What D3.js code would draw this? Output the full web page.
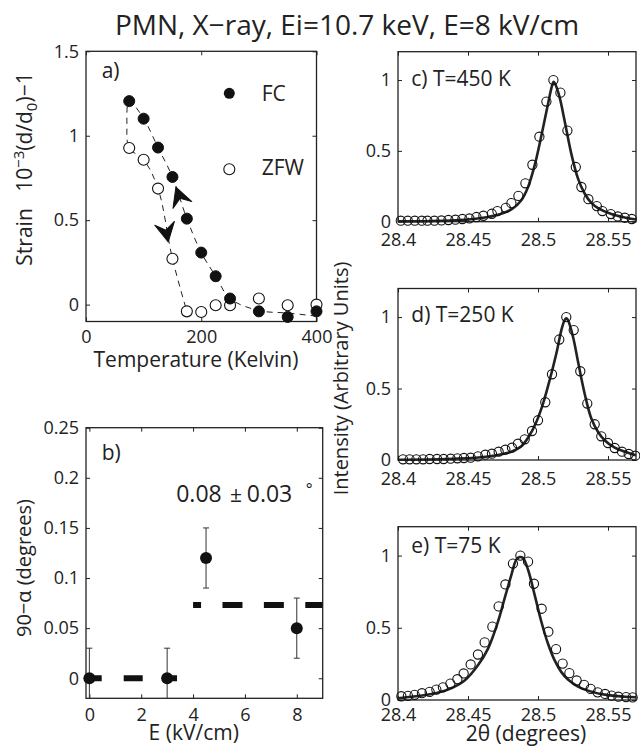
<!DOCTYPE html>
<html><head><meta charset="utf-8">
<script src="https://cdn.jsdelivr.net/npm/d3@7"></script>
<style>
body{margin:0;background:#fff}
svg text{font-family:"Open Sans",sans-serif;fill:#222}
</style></head><body>
<svg id="chart" width="640" height="747"></svg>
<script>
// ---------- DATA ----------
// panel a
const tempK = [75,100,125,150,175,200,225,250,300,350,400];
const strainFC  = [1.205,1.101,0.930,0.756,0.509,0.308,0.168,0.036,-0.040,-0.073,-0.040];
const strainZFW = [0.927,0.858,0.687,0.272,-0.040,-0.044,-0.004,-0.004,0.036,-0.004,0.000];
const guideT      = [400,350,300,250,225,200,175,150,125,100,75,71,75,100,125,150,175];
const guideStrain = [-0.068,-0.05,-0.035,0.036,0.168,0.308,0.509,0.756,0.930,1.101,1.205,1.06,0.927,0.858,0.687,0.272,-0.040];
const arrowT = [156,142.7];
const arrowStrain = [0.696,0.371];
const arrowAngle = [-110,79];
const aXTicks = [0,200,400], aXLabels = ["0","200","400"];
const aYTicks = [0,0.5,1,1.5], aYLabels = ["0","0.5","1","1.5"];
// panel b
const fieldE = [0,3,4.5,8];
const tilt = [0,0,0.12,0.05];
const tiltErr = [0.03,0.03,0.03,0.03];
const fitLow = {x:[-0.13,3.38], y:0};
const fitHigh = {x:[4.0,9.0], y:0.073};
const bXTicks = [0,2,4,6,8], bXLabels = ["0","2","4","6","8"];
const bYTicks = [0,0.05,0.1,0.15,0.2,0.25], bYLabels = ["0","0.05","0.1","0.15","0.2","0.25"];
// panels c, d, e
const cTheta = [28.402,28.407,28.412,28.417,28.421,28.426,28.431,28.436,28.441,28.446,28.451,28.456,28.461,28.467,28.471,28.477,28.481,28.486,28.491,28.496,28.501,28.506,28.511,28.516,28.521,28.527,28.531,28.536,28.542,28.546,28.552,28.557,28.562,28.567];
const cInt = [0.007,0.007,0.007,0.007,0.007,0.007,0.009,0.012,0.014,0.019,0.023,0.033,0.042,0.056,0.075,0.098,0.131,0.182,0.271,0.402,0.600,0.848,1.000,0.911,0.643,0.386,0.245,0.159,0.110,0.075,0.054,0.037,0.028,0.019];
const cFitTheta = [28.400,28.4238,28.4476,28.4595,28.4714,28.481,28.4881,28.4929,28.4976,28.5024,28.5071,28.510,28.5112,28.5124,28.5155,28.519,28.5238,28.5286,28.5333,28.5381,28.5429,28.5524,28.5619,28.5700];
const cFitInt = [0.002,0.005,0.014,0.026,0.049,0.086,0.152,0.245,0.397,0.607,0.829,0.958,0.988,0.970,0.876,0.713,0.479,0.304,0.199,0.133,0.096,0.054,0.030,0.016];

const dTheta = [28.4036,28.4083,28.4131,28.4179,28.4226,28.4279,28.4326,28.4376,28.4424,28.4471,28.4519,28.4571,28.4624,28.4671,28.4719,28.4767,28.4814,28.4857,28.4905,28.4957,28.5000,28.5052,28.5100,28.5152,28.5202,28.5255,28.5302,28.5352,28.5405,28.5452,28.5500,28.5548,28.5600,28.5648,28.5695];
const dInt = [0.005,0.005,0.005,0.005,0.007,0.007,0.007,0.009,0.012,0.014,0.016,0.026,0.037,0.044,0.058,0.072,0.086,0.114,0.145,0.203,0.278,0.404,0.600,0.843,1.000,0.909,0.621,0.395,0.250,0.166,0.119,0.084,0.058,0.042,0.030];
const dFitTheta = [28.400,28.4357,28.4595,28.4714,28.481,28.4881,28.494,28.4988,28.5036,28.5083,28.5131,28.5167,28.519,28.5202,28.5214,28.525,28.5286,28.5333,28.5381,28.5429,28.5476,28.5548,28.5643,28.5700];
const dFitInt = [0.002,0.007,0.019,0.035,0.058,0.096,0.173,0.266,0.395,0.558,0.745,0.909,0.979,0.991,0.979,0.862,0.687,0.465,0.290,0.196,0.138,0.086,0.051,0.033];

const eTheta = [28.4024,28.4071,28.4119,28.4171,28.4226,28.4274,28.4321,28.4374,28.4424,28.4469,28.4519,28.4571,28.4619,28.4674,28.4719,28.4767,28.4821,28.4874,28.4929,28.4971,28.5026,28.5074,28.5129,28.5176,28.5224,28.5276,28.5329,28.5376,28.5426,28.5479,28.5526,28.5574,28.5629,28.5676];
const eInt = [0.026,0.029,0.036,0.047,0.056,0.072,0.088,0.114,0.144,0.184,0.246,0.315,0.399,0.508,0.648,0.800,0.945,1.000,0.958,0.805,0.632,0.473,0.352,0.252,0.186,0.135,0.105,0.077,0.053,0.042,0.030,0.023,0.020,0.018];
const eFitTheta = [28.400,28.4238,28.4357,28.4476,28.4571,28.4643,28.4714,28.4762,28.481,28.4845,28.4869,28.4893,28.4929,28.4976,28.5024,28.5071,28.5119,28.5167,28.5214,28.5286,28.5381,28.5476,28.5619,28.5700];
const eFitInt = [0.012,0.042,0.072,0.135,0.240,0.356,0.542,0.705,0.867,0.972,0.990,0.984,0.902,0.728,0.542,0.391,0.274,0.193,0.142,0.093,0.058,0.037,0.023,0.019];

const pXTicks = [28.4,28.45,28.5,28.55], pXLabels = ["28.4","28.45","28.5","28.55"];
const pYTicks = [0,0.5,1], pYLabels = ["0","0.5","1"];

// ---------- DRAWING ----------
const svg = d3.select("#chart");
const INK = "#222";
const TICKFS = 18, LABFS = 21;

function frame(x, y, xt, xl, yt, yl, xOff){
  const [x0,x1] = x.range(), [yb,ytop] = y.range();
  const g = svg.append("g").attr("color",INK);
  const b = g.append("g").attr("transform",`translate(0,${yb})`)
    .call(d3.axisBottom(x).tickValues(xt).tickFormat((d,i)=>xl[i]).tickSizeInner(-4).tickSizeOuter(0));
  b.selectAll("text").attr("y",xOff).attr("dy",null);
  g.append("g").attr("transform",`translate(0,${ytop})`)
    .call(d3.axisTop(x).tickValues(xt).tickFormat("").tickSizeInner(-4).tickSizeOuter(0));
  g.append("g").attr("transform",`translate(${x0},0)`)
    .call(d3.axisLeft(y).tickValues(yt).tickFormat((d,i)=>yl[i]).tickSizeInner(-4).tickSizeOuter(0).tickPadding(7));
  g.append("g").attr("transform",`translate(${x1},0)`)
    .call(d3.axisRight(y).tickValues(yt).tickFormat("").tickSizeInner(-4).tickSizeOuter(0));
  g.selectAll(".domain").remove();
  g.selectAll("g").attr("font-family",null).attr("font-size",TICKFS);
  g.selectAll(".tick line").attr("stroke-width",1);
  g.append("rect").attr("x",x0).attr("y",ytop).attr("width",x1-x0).attr("height",yb-ytop)
    .attr("fill","none").attr("stroke",INK).attr("stroke-width",1.3);
}

function label(x, y, txt, opts={}){
  const t = svg.append("text").attr("x",x).attr("y",y).attr("font-size",opts.fs||LABFS)
    .attr("text-anchor",opts.anchor||"start").text(txt);
  if(opts.rot) t.attr("transform",`rotate(-90,${x},${y})`);
  return t;
}

// title
label(347,35,"PMN, X\u2212ray, Ei=10.7 keV, E=8 kV/cm",{fs:28,anchor:"middle"});

// ----- panel a -----
const ax = d3.scaleLinear().domain([0,400]).range([86,316.5]);
const ay = d3.scaleLinear().domain([-0.1,1.5]).range([321.5,51.3]);
frame(ax, ay, aXTicks, aXLabels, aYTicks, aYLabels, 21.2);
const guide = d3.line().x((d,i)=>ax(guideT[i])).y((d,i)=>ay(guideStrain[i])).curve(d3.curveCatmullRom.alpha(0.5));
svg.append("path").attr("d",guide(guideT)).attr("fill","none").attr("stroke",INK)
  .attr("stroke-width",1).attr("stroke-dasharray","6,5");
svg.append("g").selectAll("circle").data(tempK).join("circle")
  .attr("cx",d=>ax(d)).attr("cy",(d,i)=>ay(strainZFW[i])).attr("r",5.5)
  .attr("fill","#fff").attr("stroke","#111").attr("stroke-width",1.1);
svg.append("g").selectAll("circle").data(tempK).join("circle")
  .attr("cx",d=>ax(d)).attr("cy",(d,i)=>ay(strainFC[i])).attr("r",5.5)
  .attr("fill","#111").attr("stroke","#111").attr("stroke-width",1);
// arrow heads
svg.append("g").selectAll("path").data(arrowT).join("path")
  .attr("d","M0,0 L-19,-10 L-12,0 L-19,10 Z")
  .attr("transform",(d,i)=>`translate(${ax(d)},${ay(arrowStrain[i])}) rotate(${arrowAngle[i]})`)
  .attr("fill","#111").attr("stroke","#111").attr("stroke-width",1).attr("stroke-linejoin","round");
// legend
svg.append("circle").attr("cx",229.3).attr("cy",93.3).attr("r",5.5).attr("fill","#111");
svg.append("circle").attr("cx",229.3).attr("cy",169.3).attr("r",5.5).attr("fill","#fff").attr("stroke","#111").attr("stroke-width",1.1);
label(261.7,100.5,"FC");
label(261.7,174.5,"ZFW");
label(101.7,78.3,"a)");
label(196,366.7,"Temperature (Kelvin)",{anchor:"middle"});
{
  const t = svg.append("text").attr("transform","translate(32,169) rotate(-90)")
    .attr("text-anchor","middle").attr("font-size",21);
  t.append("tspan").text("Strain\u00a0\u00a0\u00a010");
  t.append("tspan").attr("dy",-8).attr("font-size",15).text("\u22123");
  t.append("tspan").attr("dy",8).text("(d/d");
  t.append("tspan").attr("dy",5).attr("font-size",15).text("0");
  t.append("tspan").attr("dy",-5).text(")\u22121");
}

// ----- panel b -----
const bx = d3.scaleLinear().domain([-0.13,9]).range([86,322.7]);
const by = d3.scaleLinear().domain([-0.02,0.25]).range([698.3,427.7]);
frame(bx, by, bXTicks, bXLabels, bYTicks, bYLabels, 22.5);
svg.append("clipPath").attr("id","clipb").append("rect")
  .attr("x",86).attr("y",427.7).attr("width",322.7-86).attr("height",698.3-427.7);
const bl = svg.append("g").attr("clip-path","url(#clipb)");
bl.append("line").attr("x1",bx(fitLow.x[0])).attr("x2",bx(fitLow.x[1]))
  .attr("y1",by(fitLow.y)).attr("y2",by(fitLow.y))
  .attr("stroke","#111").attr("stroke-width",6).attr("stroke-dasharray","19,22").attr("stroke-dashoffset",3.3);
bl.append("line").attr("x1",bx(fitHigh.x[0])).attr("x2",bx(fitHigh.x[1]))
  .attr("y1",by(fitHigh.y)).attr("y2",by(fitHigh.y))
  .attr("stroke","#111").attr("stroke-width",6).attr("stroke-dasharray","20,21.4").attr("stroke-dashoffset",12);
const eb = bl.selectAll("g.eb").data(fieldE).join("g");
eb.append("line").attr("x1",d=>bx(d)).attr("x2",d=>bx(d))
  .attr("y1",(d,i)=>by(tilt[i]-tiltErr[i])).attr("y2",(d,i)=>by(tilt[i]+tiltErr[i]))
  .attr("stroke","#333").attr("stroke-width",1);
eb.append("line").attr("x1",d=>bx(d)-3).attr("x2",d=>bx(d)+3)
  .attr("y1",(d,i)=>by(tilt[i]+tiltErr[i])).attr("y2",(d,i)=>by(tilt[i]+tiltErr[i]))
  .attr("stroke","#333").attr("stroke-width",1);
eb.append("line").attr("x1",d=>bx(d)-3).attr("x2",d=>bx(d)+3)
  .attr("y1",(d,i)=>by(tilt[i]-tiltErr[i])).attr("y2",(d,i)=>by(tilt[i]-tiltErr[i]))
  .attr("stroke","#333").attr("stroke-width",1);
svg.append("g").selectAll("circle").data(fieldE).join("circle")
  .attr("cx",d=>bx(d)).attr("cy",(d,i)=>by(tilt[i])).attr("r",6).attr("fill","#111");
label(101.7,460,"b)");
label(bx(3.35),by(0.176),"0.08",{fs:23});
label(bx(5.42),by(0.176),"\u00b1",{fs:21});
label(bx(6.07),by(0.176),"0.03",{fs:23});
label(bx(8.35),by(0.183),"\u00b0",{fs:16});
label(193.7,740,"E (kV/cm)",{anchor:"middle"});
label(31,568,"90\u2212\u03b1 (degrees)",{anchor:"middle",rot:true,fs:20});

// ----- panels c, d, e -----
const px = d3.scaleLinear().domain([28.4,28.57]).range([398,636]);
const peaks = [
  {th:cTheta, I:cInt, fth:cFitTheta, fI:cFitInt, y:[221.7,51.7], off:24.8, name:"c) T=450 K", ly:86},
  {th:dTheta, I:dInt, fth:dFitTheta, fI:dFitInt, y:[460,288.5], off:25, name:"d) T=250 K", ly:322},
  {th:eTheta, I:eInt, fth:eFitTheta, fI:eFitInt, y:[700,526.7], off:21.2, name:"e) T=75 K", ly:553.3}
];
peaks.forEach(p=>{
  const py = d3.scaleLinear().domain([0,1.2]).range(p.y);
  frame(px, py, pXTicks, pXLabels, pYTicks, pYLabels, p.off);
  const ln = d3.line().x((d,i)=>px(p.fth[i])).y((d,i)=>py(p.fI[i])).curve(d3.curveCatmullRom.alpha(0.5));
  svg.append("path").attr("d",ln(p.fth)).attr("fill","none").attr("stroke","#222").attr("stroke-width",2.6);
  svg.append("g").selectAll("circle").data(p.th).join("circle")
    .attr("cx",d=>px(d)).attr("cy",(d,i)=>py(p.I[i])).attr("r",4.6)
    .attr("fill","none").attr("stroke","#111").attr("stroke-width",1.1);
  label(411.3,p.ly,p.name);
});
label(526,740.5,"2\u03b8 (degrees)",{anchor:"middle"});
label(348,378.5,"Intensity (Arbitrary Units)",{anchor:"middle",rot:true,fs:20});
</script>
</body></html>
